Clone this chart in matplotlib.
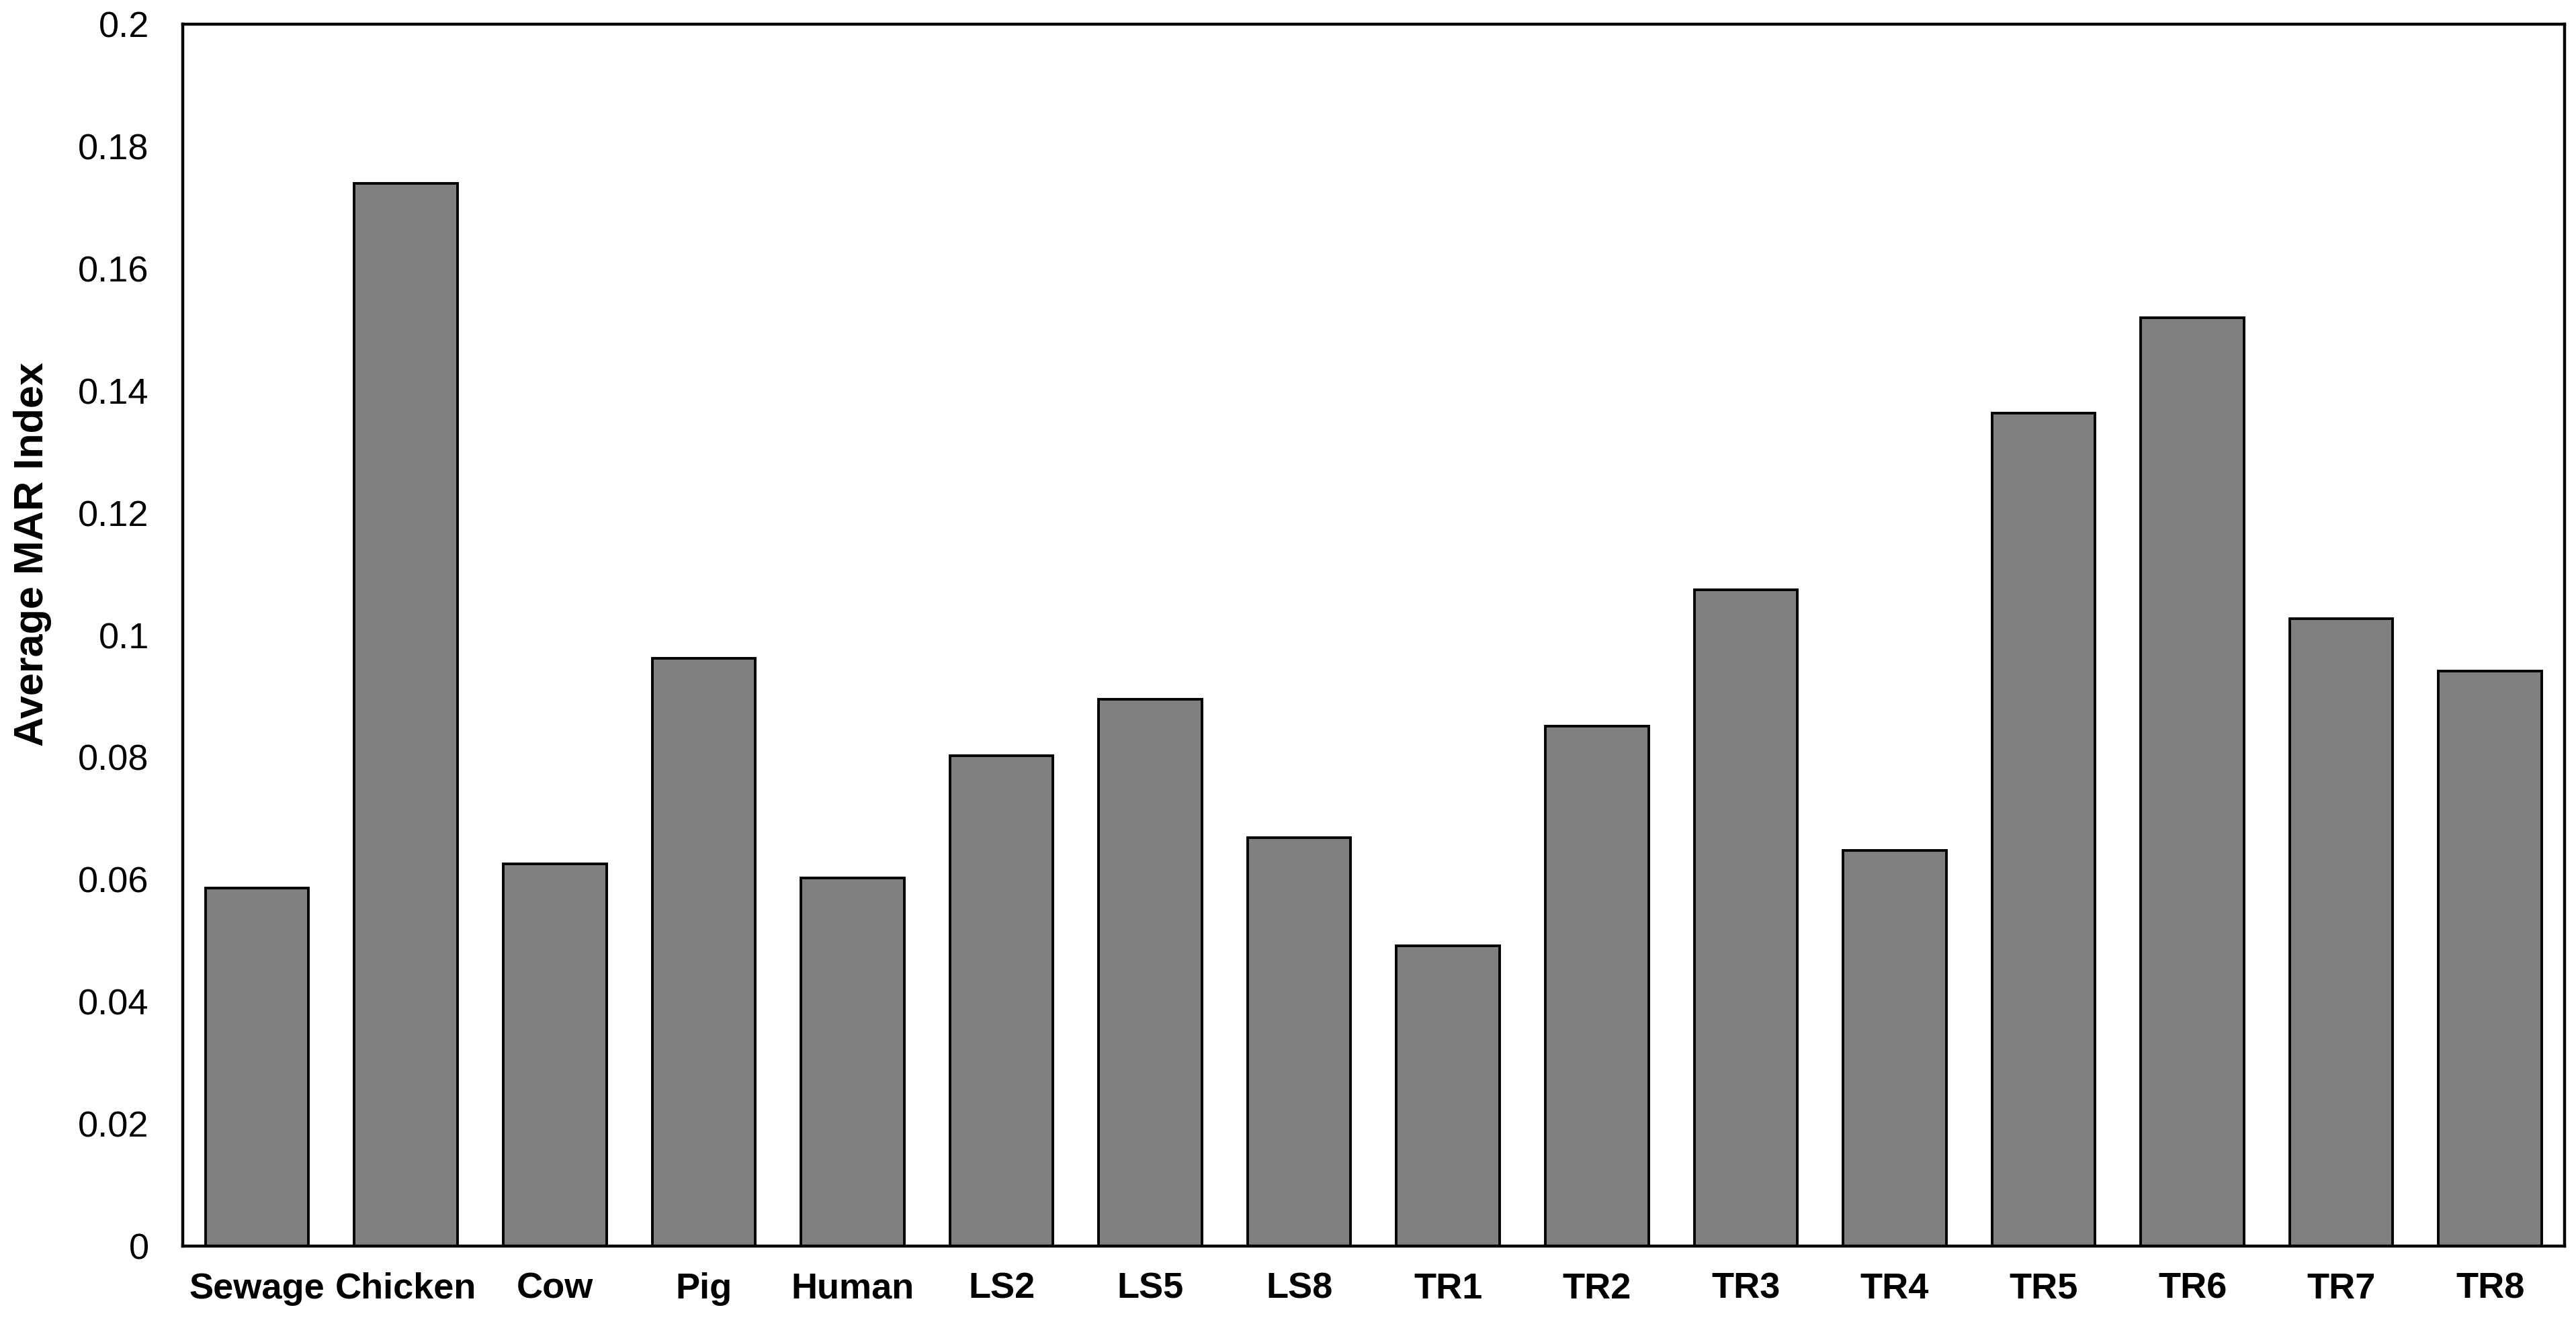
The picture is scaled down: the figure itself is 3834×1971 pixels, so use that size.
import numpy as np
import matplotlib
matplotlib.use("Agg")
import matplotlib.pyplot as plt

# values
samples = ["Sewage", "Chicken", "Cow", "Pig", "Human", "LS2", "LS5", "LS8",
           "TR1", "TR2", "TR3", "TR4", "TR5", "TR6", "TR7", "TR8"]
mar_index = [0.0586, 0.1739, 0.0626, 0.0962, 0.0602, 0.0803, 0.0895, 0.0669,
             0.0492, 0.0851, 0.1074, 0.0648, 0.1363, 0.1519, 0.1027, 0.0941]
y_ticks = [0, 0.02, 0.04, 0.06, 0.08, 0.1, 0.12, 0.14, 0.16, 0.18, 0.2]
y_tick_labels = ["0", "0.02", "0.04", "0.06", "0.08", "0.1", "0.12", "0.14",
                 "0.16", "0.18", "0.2"]

plt.rcParams["font.family"] = ["Liberation Sans", "DejaVu Sans"]

fig = plt.figure(figsize=(19.17, 9.855), dpi=200)
ax = fig.add_axes([0.0709, 0.05885, 0.99557 - 0.0709, 0.98173 - 0.05885])

x = np.arange(len(samples))
ax.bar(x, mar_index, width=0.693, color="#808080", edgecolor="black",
       linewidth=1.4, zorder=2)

ax.set_xlim(-0.5, len(samples) - 0.5)
ax.set_ylim(0, 0.2)
ax.set_yticks(y_ticks)
ax.set_yticklabels(y_tick_labels, fontsize=19.5)
ax.set_xticks(x)
ax.set_xticklabels(samples, fontsize=19.5, fontweight="bold")
ax.tick_params(axis="both", length=0)
ax.tick_params(axis="y", pad=18)
ax.tick_params(axis="x", pad=14)

# label sits a bit above the middle of the axis in the original
ax.set_ylabel("Average MAR Index", fontsize=22, fontweight="bold",
              labelpad=14, y=0.566)

for s in ax.spines.values():
    s.set_linewidth(1.6)
    s.set_color("black")

fig.savefig("out.png", dpi=200)
